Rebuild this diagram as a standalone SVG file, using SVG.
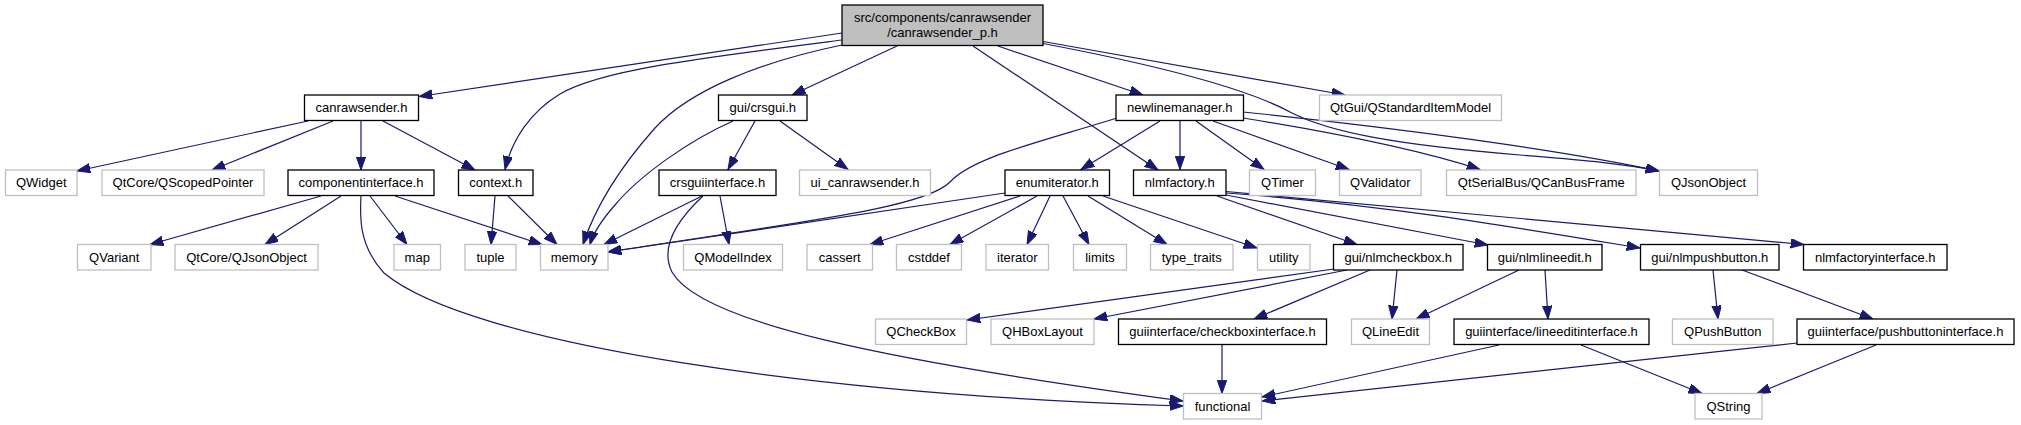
<svg xmlns="http://www.w3.org/2000/svg" width="2021" height="425" viewBox="0 0 2021 425">
<style>
.doc{fill:#fff;stroke:#000;stroke-width:1.3}
.ext{fill:#fff;stroke:#bfbfbf;stroke-width:1.3}
.main{fill:#bfbfbf;stroke:#000;stroke-width:1.3}
text{font-family:"Liberation Sans",Arial,sans-serif;font-size:13px;fill:#000;text-anchor:middle}
.e path{fill:none;stroke:#191970;stroke-width:1.2;marker-end:url(#ah)}
</style>
<defs>
<marker id="ah" markerWidth="14" markerHeight="10" refX="13.3" refY="4.7" orient="auto" markerUnits="userSpaceOnUse"><path d="M0,0 L13.3,4.7 L0,9.4 z" fill="#191970" stroke="#191970" stroke-width="1"/></marker>
</defs>
<rect width="2021" height="425" fill="#fff"/>
<g class="e" id="edges">
<path d="M842,33 L419,96.5"/>
<path d="M842,40 C 700,58 600,70 560,94 C 530,112 512,140 505,169.5"/>
<path d="M842,45 C 760,62 690,90 655,128 C 622,165 596,205 583,244.5"/>
<path d="M897,46 L792,95"/>
<path d="M973,46 L1158,170"/>
<path d="M998,46 L1143,95"/>
<path d="M1043,41.5 L1345,95"/>
<path d="M1043,43.5 C 1130,60 1240,85 1290,112 C 1330,133 1400,145 1520,155 C 1580,160 1620,163 1659,171"/>
<path d="M1243,112 C 1400,128 1560,150 1659,171"/>
<path d="M1243,118 C 1330,132 1420,150 1480,169.5"/>
<path d="M1213,121 L1349,169.5"/>
<path d="M1196,121 L1264,169.5"/>
<path d="M1180,121 L1180,169.5"/>
<path d="M1160,121 L1081,169.5"/>
<path d="M1136,112 C 1050,140 975,155 950,182 C 925,208 800,222 608,252"/>
<path d="M308,121 L77,171"/>
<path d="M333,121 L212,170"/>
<path d="M361,121 L361,170"/>
<path d="M383,121 L475,170"/>
<path d="M321,196 L150,244.5"/>
<path d="M341,196 L265,244.5"/>
<path d="M370,196 L407,244.5"/>
<path d="M395,196 L542,244.5"/>
<path d="M361,196 C 360,215 358,245 384,273 C 470,345 820,395 1183,406"/>
<path d="M495,196 L491,244.5"/>
<path d="M508,196 L557,244.5"/>
<path d="M755,121 L728,169.5"/>
<path d="M780,121 L848,169.5"/>
<path d="M733,121 C 690,140 640,175 615,205 C 600,222 593,234 590,244.5"/>
<path d="M702,196 L604,244.5"/>
<path d="M720,196 L729,244.5"/>
<path d="M703,196 C 675,222 660,248 672,272 C 700,322 880,360 1183,401"/>
<path d="M1005,193 L608,252"/>
<path d="M1020,196 L870,244.5"/>
<path d="M1037,196 L950,244.5"/>
<path d="M1050,196 L1027,244.5"/>
<path d="M1063,196 L1089,244.5"/>
<path d="M1088,196 L1167,244.5"/>
<path d="M1103,196 L1257,248"/>
<path d="M1217,196 L1357,244.5"/>
<path d="M1226,195 L1488,245"/>
<path d="M1226,193 C 1380,204 1520,228 1640,248"/>
<path d="M1226,191.5 C 1400,206 1600,225 1804,244.5"/>
<path d="M1334,269 L967,320"/>
<path d="M1347,270 L1094,319"/>
<path d="M1370,270 L1254,319"/>
<path d="M1397,270 L1392,319"/>
<path d="M1519,270 L1416,319"/>
<path d="M1545,270 L1548,319"/>
<path d="M1713,270 L1718,319"/>
<path d="M1742,270 L1873,319"/>
<path d="M1222,345 L1222,393.5"/>
<path d="M1499,345 L1262,397"/>
<path d="M1581,345 L1702,393.5"/>
<path d="M1797,343 L1262,401"/>
<path d="M1876,345 L1757,393.5"/>
</g>
<g id="n_main"><rect class="main" x="842" y="5" width="201" height="40.5"/><text x="942.5" y="22.3">src/components/canrawsender</text><text x="942.5" y="36.5">/canrawsender_p.h</text></g>
<g id="n_canrawsender"><rect class="doc" x="304.5" y="95" width="114" height="25.5"/><text x="361.5" y="112.3">canrawsender.h</text></g>
<g id="n_crsgui"><rect class="doc" x="718.5" y="95" width="88.5" height="25.5"/><text x="762.75" y="112.3">gui/crsgui.h</text></g>
<g id="n_newlinemanager"><rect class="doc" x="1116" y="95" width="127.5" height="25.5"/><text x="1179.75" y="112.3">newlinemanager.h</text></g>
<g id="n_qstandarditemmodel"><rect class="ext" x="1319.5" y="95" width="182" height="25.5"/><text x="1410.5" y="112.3">QtGui/QStandardItemModel</text></g>
<g id="n_qwidget"><rect class="ext" x="5.5" y="170" width="71.5" height="25.5"/><text x="41.25" y="187.3">QWidget</text></g>
<g id="n_qscopedpointer"><rect class="ext" x="102" y="170" width="162" height="25.5"/><text x="183" y="187.3">QtCore/QScopedPointer</text></g>
<g id="n_componentinterface"><rect class="doc" x="288" y="170" width="146" height="25.5"/><text x="361" y="187.3">componentinterface.h</text></g>
<g id="n_context"><rect class="doc" x="458.5" y="170" width="74.5" height="25.5"/><text x="495.75" y="187.3">context.h</text></g>
<g id="n_crsguiinterface"><rect class="doc" x="659" y="170" width="117" height="25.5"/><text x="717.5" y="187.3">crsguiinterface.h</text></g>
<g id="n_ui_canrawsender"><rect class="ext" x="799.5" y="170" width="131" height="25.5"/><text x="865" y="187.3">ui_canrawsender.h</text></g>
<g id="n_enumiterator"><rect class="doc" x="1005" y="170" width="104.5" height="25.5"/><text x="1057.25" y="187.3">enumiterator.h</text></g>
<g id="n_nlmfactory"><rect class="doc" x="1133.5" y="170" width="92.5" height="25.5"/><text x="1179.75" y="187.3">nlmfactory.h</text></g>
<g id="n_qtimer"><rect class="ext" x="1249.5" y="170" width="66" height="25.5"/><text x="1282.5" y="187.3">QTimer</text></g>
<g id="n_qvalidator"><rect class="ext" x="1339.5" y="170" width="81.5" height="25.5"/><text x="1380.25" y="187.3">QValidator</text></g>
<g id="n_qcanbusframe"><rect class="ext" x="1446.5" y="170" width="189.5" height="25.5"/><text x="1541.25" y="187.3">QtSerialBus/QCanBusFrame</text></g>
<g id="n_qjsonobject"><rect class="ext" x="1659.5" y="170" width="98" height="25.5"/><text x="1708.5" y="187.3">QJsonObject</text></g>
<g id="n_qvariant"><rect class="ext" x="77.5" y="244.5" width="73.5" height="25.5"/><text x="114.25" y="261.8">QVariant</text></g>
<g id="n_qtcore_qjsonobject"><rect class="ext" x="175" y="244.5" width="143" height="25.5"/><text x="246.5" y="261.8">QtCore/QJsonObject</text></g>
<g id="n_map"><rect class="ext" x="394" y="244.5" width="46.5" height="25.5"/><text x="417.25" y="261.8">map</text></g>
<g id="n_tuple"><rect class="ext" x="465" y="244.5" width="51" height="25.5"/><text x="490.5" y="261.8">tuple</text></g>
<g id="n_memory"><rect class="ext" x="540.5" y="244.5" width="67.5" height="25.5"/><text x="574.25" y="261.8">memory</text></g>
<g id="n_qmodelindex"><rect class="ext" x="683.5" y="244.5" width="99" height="25.5"/><text x="733" y="261.8">QModelIndex</text></g>
<g id="n_cassert"><rect class="ext" x="807" y="244.5" width="65.5" height="25.5"/><text x="839.75" y="261.8">cassert</text></g>
<g id="n_cstddef"><rect class="ext" x="896.5" y="244.5" width="65" height="25.5"/><text x="929" y="261.8">cstddef</text></g>
<g id="n_iterator"><rect class="ext" x="986" y="244.5" width="62.5" height="25.5"/><text x="1017.25" y="261.8">iterator</text></g>
<g id="n_limits"><rect class="ext" x="1073.5" y="244.5" width="53" height="25.5"/><text x="1100" y="261.8">limits</text></g>
<g id="n_type_traits"><rect class="ext" x="1150.5" y="244.5" width="82.5" height="25.5"/><text x="1191.75" y="261.8">type_traits</text></g>
<g id="n_utility"><rect class="ext" x="1257.5" y="244.5" width="52.5" height="25.5"/><text x="1283.75" y="261.8">utility</text></g>
<g id="n_nlmcheckbox"><rect class="doc" x="1333.5" y="244.5" width="129.5" height="25.5"/><text x="1398.25" y="261.8">gui/nlmcheckbox.h</text></g>
<g id="n_nlmlineedit"><rect class="doc" x="1487.5" y="244.5" width="114.5" height="25.5"/><text x="1544.75" y="261.8">gui/nlmlineedit.h</text></g>
<g id="n_nlmpushbutton"><rect class="doc" x="1640.5" y="244.5" width="138.5" height="25.5"/><text x="1709.75" y="261.8">gui/nlmpushbutton.h</text></g>
<g id="n_nlmfactoryinterface"><rect class="doc" x="1803.5" y="244.5" width="143.5" height="25.5"/><text x="1875.25" y="261.8">nlmfactoryinterface.h</text></g>
<g id="n_qcheckbox"><rect class="ext" x="875.5" y="319" width="91" height="25.5"/><text x="921" y="336.3">QCheckBox</text></g>
<g id="n_qhboxlayout"><rect class="ext" x="991" y="319" width="103" height="25.5"/><text x="1042.5" y="336.3">QHBoxLayout</text></g>
<g id="n_checkboxinterface"><rect class="doc" x="1118.5" y="319" width="208" height="25.5"/><text x="1222.5" y="336.3">guiinterface/checkboxinterface.h</text></g>
<g id="n_qlineedit"><rect class="ext" x="1351.5" y="319" width="78" height="25.5"/><text x="1390.5" y="336.3">QLineEdit</text></g>
<g id="n_lineeditinterface"><rect class="doc" x="1454" y="319" width="195" height="25.5"/><text x="1551.5" y="336.3">guiinterface/lineeditinterface.h</text></g>
<g id="n_qpushbutton"><rect class="ext" x="1672.5" y="319" width="100.5" height="25.5"/><text x="1722.75" y="336.3">QPushButton</text></g>
<g id="n_pushbuttoninterface"><rect class="doc" x="1797" y="319" width="217" height="25.5"/><text x="1905.5" y="336.3">guiinterface/pushbuttoninterface.h</text></g>
<g id="n_functional"><rect class="ext" x="1183.5" y="393.5" width="78" height="25.5"/><text x="1222.5" y="410.8">functional</text></g>
<g id="n_qstring"><rect class="ext" x="1695" y="393.5" width="67" height="25.5"/><text x="1728.5" y="410.8">QString</text></g>
</svg>
